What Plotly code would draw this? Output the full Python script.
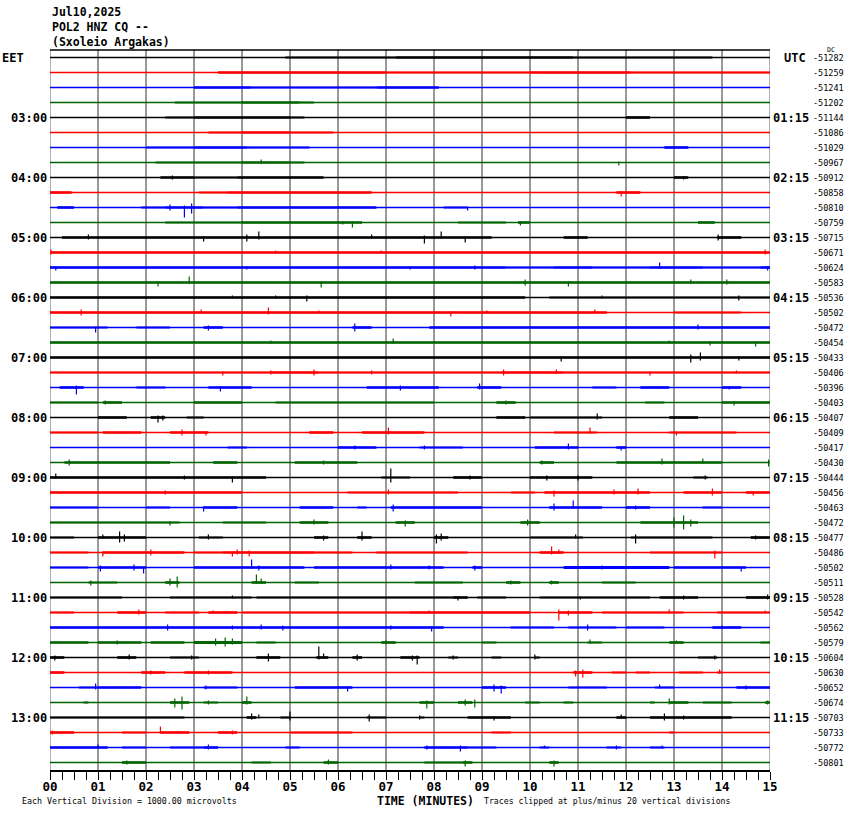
import plotly.graph_objects as go

# ---------------- data ----------------
HEADER = ["Jul10,2025", "POL2 HNZ CQ --", "(Sxoleio Argakas)"]
MINUTE_LABELS = ["00", "01", "02", "03", "04", "05", "06", "07", "08",
                 "09", "10", "11", "12", "13", "14", "15"]
ROW_COLORS = ["#000000", "#ff0000", "#0000ff", "#006400"]
EET_ROWS = [4, 8, 12, 16, 20, 24, 28, 32, 36, 40, 44]
EET_LABELS = ["03:00", "04:00", "05:00", "06:00", "07:00", "08:00",
              "09:00", "10:00", "11:00", "12:00", "13:00"]
UTC_LABELS = ["01:15", "02:15", "03:15", "04:15", "05:15", "06:15",
              "07:15", "08:15", "09:15", "10:15", "11:15"]
DC_OFFSETS = [-51282, -51259, -51241, -51202, -51144, -51086, -51029, -50967,
              -50912, -50858, -50810, -50759, -50715, -50671, -50624, -50583,
              -50536, -50502, -50472, -50454, -50433, -50406, -50396, -50403,
              -50407, -50409, -50417, -50430, -50444, -50456, -50463, -50472,
              -50477, -50486, -50502, -50511, -50528, -50542, -50562, -50579,
              -50604, -50630, -50652, -50674, -50703, -50733, -50772, -50801]

# noise bands per row: [start_min, end_min, half-amplitude px]
NOISE = [
    [[4.9, 7.2, 1], [7.2, 10.9, 1.5], [10.9, 13.8, 1]],
    [[3.5, 7.0, 1.5], [7.0, 10.0, 1], [10.0, 12.1, 1.5], [12.1, 15, 1]],
    [[3.0, 4.2, 1.5], [4.2, 6.8, 1], [6.8, 8.1, 1.5]],
    [[2.6, 4.0, 1], [4.0, 5.2, 1.5], [5.2, 5.5, 1]],
    [[2.4, 3.0, 1], [3.0, 5.0, 1.5], [5.0, 5.3, 1], [12.0, 12.5, 1.5]],
    [[3.3, 4.0, 1], [4.0, 5.0, 1.5], [5.0, 5.9, 1]],
    [[2.0, 3.0, 1], [3.0, 4.1, 1.5], [4.1, 5.4, 1], [12.8, 13.3, 1.5]],
    [[2.2, 4.0, 1], [4.0, 5.0, 1.5], [5.0, 5.3, 1]],
    [[2.3, 3.0, 1.5], [3.0, 3.9, 1], [3.9, 5.7, 1.5], [13.0, 13.3, 1.5]],
    [[0, 0.45, 1.5], [3.1, 3.7, 1], [3.7, 6.7, 1.5], [11.8, 12.3, 1.5]],
    [[0.15, 0.5, 1.5], [1.9, 2.4, 1], [2.4, 3.2, 1.5], [3.2, 3.9, 1], [3.9, 6.8, 1.5], [8.2, 8.7, 1]],
    [[2.4, 4.0, 1], [4.0, 6.5, 1.5], [8.5, 9.5, 1], [9.75, 10.0, 1.5], [13.5, 13.85, 1.5]],
    [[0.25, 9.2, 1.5], [10.7, 11.2, 1.5], [13.9, 14.4, 1.5]],
    [[0, 15, 1.5]],
    [[0, 9.5, 1.5], [9.5, 10.5, 1], [10.5, 11.3, 1.5], [11.3, 12.5, 1], [12.5, 13.6, 1.5], [13.6, 14.8, 1], [14.8, 15, 1.5]],
    [[0, 15, 1.5]],
    [[0, 9.9, 1.5], [10.4, 15, 1]],
    [[0, 11.6, 1.5], [13.0, 14.4, 1]],
    [[0, 1.2, 1], [1.8, 2.5, 1], [3.2, 3.6, 1.5], [6.3, 6.7, 1.5], [7.9, 15, 1.5]],
    [[0, 15, 1.5]],
    [[0, 15, 1.5]],
    [[0, 4.6, 1], [4.6, 5.6, 1.5], [5.6, 9.4, 1], [9.4, 10.7, 1.5], [10.7, 15, 1]],
    [[0.2, 0.7, 1.5], [1.8, 2.4, 1], [3.3, 4.2, 1.5], [6.6, 8.1, 1.5], [8.9, 9.4, 1.5], [11.3, 11.8, 1], [12.3, 12.9, 1.5], [14.0, 14.4, 1.5]],
    [[0, 1.0, 1], [1.1, 1.5, 1.5], [3.0, 4.0, 1.5], [4.7, 8.0, 1], [9.3, 9.7, 1.5], [12.4, 12.8, 1], [14.0, 15, 1.5]],
    [[1.0, 1.6, 1.5], [2.1, 2.4, 1.5], [2.85, 3.2, 1], [9.3, 9.9, 1.5], [10.0, 11.5, 1], [12.9, 13.5, 1.5]],
    [[0, 1.0, 1], [1.1, 1.9, 1.5], [2.5, 3.3, 1.5], [5.4, 5.9, 1.5], [6.5, 7.8, 1.5], [10.5, 11.4, 1], [12.9, 14.3, 1]],
    [[3.7, 4.1, 1], [6.0, 6.8, 1.5], [7.7, 8.6, 1], [10.1, 11.0, 1.5], [11.8, 12.0, 1.5]],
    [[0.3, 2.5, 1.5], [3.4, 3.9, 1.5], [5.1, 6.4, 1.5], [10.2, 10.5, 1.5], [11.8, 14.0, 1.5]],
    [[0, 4.5, 1.5], [6.9, 7.5, 1], [8.4, 9.0, 1.5], [10.0, 11.3, 1.5], [13.4, 13.7, 1]],
    [[0, 4.0, 1.5], [6.2, 8.5, 1], [9.6, 10.1, 1], [10.3, 12.5, 1.5], [13.2, 14.0, 1.5], [14.5, 15, 1.5]],
    [[0, 1.0, 1], [2.0, 2.5, 1], [3.2, 3.9, 1.5], [5.2, 5.9, 1.5], [6.4, 6.6, 1], [7.1, 9.0, 1.5], [10.4, 11.5, 1.5], [12.0, 12.5, 1.5], [13.6, 14.0, 1]],
    [[0, 2.7, 1], [3.6, 4.5, 1], [5.2, 5.8, 1.5], [7.2, 7.6, 1.5], [9.8, 10.2, 1.5], [12.3, 13.5, 1.5]],
    [[0, 0.5, 1], [1.0, 2.0, 1.5], [3.1, 3.6, 1], [5.5, 5.8, 1.5], [6.4, 6.7, 1.5], [8.0, 8.3, 1.5], [10.0, 11.1, 1], [12.1, 13.8, 1], [14.6, 15, 1.5]],
    [[0, 0.8, 1], [1.1, 2.8, 1.5], [3.0, 3.6, 1], [3.6, 5.5, 1.5], [5.5, 6.3, 1], [6.8, 8.7, 1], [10.2, 10.7, 1.5], [12.5, 14.0, 1]],
    [[0, 0.8, 1], [1.0, 2.0, 1.5], [3.0, 5.3, 1.5], [5.5, 8.2, 1.5], [8.8, 9.0, 1.5], [10.7, 12.9, 2], [13.0, 14.5, 1.5]],
    [[0.8, 1.4, 1], [2.4, 2.7, 1.5], [4.2, 4.5, 1.5], [5.1, 5.6, 1], [7.6, 8.6, 1], [9.5, 9.8, 1.5], [10.4, 10.6, 1.5], [11.5, 12.2, 1]],
    [[0, 1.5, 1], [2.5, 4.2, 1], [4.3, 8.4, 1], [8.4, 8.7, 1.5], [8.9, 9.5, 1], [10.2, 11.3, 1], [11.3, 12.5, 1], [12.7, 13.5, 1.5], [14.5, 15, 1.5]],
    [[0, 0.5, 1], [1.4, 2.0, 1.5], [2.4, 3.1, 1], [3.3, 3.9, 1.5], [4.0, 7.5, 1], [7.5, 10.0, 1.5], [10.6, 11.3, 1.5], [11.5, 13.2, 1], [13.9, 15, 1]],
    [[0, 5.0, 1.5], [5.0, 8.2, 1.5], [9.6, 10.5, 1], [10.8, 11.8, 1], [12.0, 12.8, 1], [13.8, 14.4, 1.5]],
    [[0, 0.8, 1.5], [1.0, 1.9, 1.5], [2.1, 2.8, 1.5], [3.0, 4.0, 2], [4.3, 4.7, 1], [6.9, 7.2, 1.5], [9.0, 9.3, 1], [11.2, 11.5, 1], [12.9, 13.2, 1.5], [14.8, 15, 1]],
    [[0, 0.3, 1.5], [1.4, 1.8, 1.5], [2.5, 3.1, 1], [4.3, 4.8, 1.5], [5.55, 5.8, 1.5], [6.3, 6.5, 1.5], [7.3, 7.7, 1.5], [8.3, 8.5, 1], [9.2, 9.4, 1], [10.1, 10.2, 1], [13.5, 13.9, 1]],
    [[0, 0.3, 1.5], [1.9, 2.4, 1.5], [2.8, 3.8, 1.5], [10.9, 11.3, 1.5], [11.7, 12.0, 1], [12.2, 12.5, 1], [13.1, 13.6, 1], [13.9, 14.0, 1]],
    [[0.6, 1.0, 1], [1.0, 1.9, 1.5], [3.2, 3.9, 1], [5.1, 6.3, 1.5], [9.0, 9.5, 1.5], [10.8, 11.6, 1], [12.6, 13.0, 1], [14.3, 15, 1.5]],
    [[0.7, 0.8, 1], [2.5, 2.9, 1.5], [3.2, 3.5, 1], [4.0, 4.2, 1.5], [7.7, 8.0, 1.5], [8.5, 8.8, 1.5], [9.9, 10.2, 1], [10.7, 10.9, 1], [12.5, 12.6, 1], [12.9, 13.3, 1.5], [13.6, 14.2, 1], [14.9, 15, 1.5]],
    [[0, 2.8, 1], [4.1, 4.3, 1.5], [4.8, 5.0, 1], [6.6, 7.0, 1], [7.7, 7.8, 1], [8.7, 9.6, 1.5], [11.8, 12.0, 1.5], [12.5, 14.2, 1.5]],
    [[0, 0.5, 1.5], [1.5, 2.0, 1], [2.3, 2.9, 1.5], [3.5, 3.9, 1.5], [5.0, 6.3, 1], [9.2, 9.6, 1], [12.9, 13.0, 1]],
    [[0, 1.2, 1.5], [1.5, 2.0, 1], [2.5, 3.2, 1], [3.2, 3.5, 1.5], [4.9, 5.2, 1], [7.8, 8.7, 1.5], [8.7, 9.3, 1], [10.2, 10.4, 1], [11.6, 11.9, 1], [12.5, 12.8, 1]],
    [[1.5, 2.0, 1.5], [4.2, 4.6, 1], [5.7, 6.0, 1.5], [7.8, 8.6, 1], [8.6, 8.8, 1.5], [10.4, 10.6, 1.5]],
]

# spikes per row: [minute, up px, down px]
SPIKES = [
    [],
    [],
    [],
    [],
    [],
    [],
    [],
    [[4.4, 3, 1], [11.85, 1, 3]],
    [[2.55, 2, 2], [13.2, 1, 2]],
    [[11.9, 1, 4]],
    [[2.5, 3, 3], [2.8, 2, 10], [2.95, 4, 6], [8.7, 1, 3]],
    [[6.3, 1, 5], [9.8, 1, 3], [6.1, 1, 2]],
    [[0.8, 3, 2], [3.2, 1, 4], [4.1, 3, 4], [4.35, 6, 2], [6.7, 3, 1], [7.8, 2, 6], [8.15, 6, 1], [8.65, 1, 5], [13.92, 3, 3]],
    [[0.02, 3, 2], [4.7, 2, 1], [6.9, 2, 1], [14.9, 3, 2]],
    [[0.12, 1, 3], [4.1, 1, 2], [7.5, 1, 2], [8.85, 2, 2], [12.7, 5, 1], [14.95, 1, 3]],
    [[2.25, 1, 4], [2.9, 6, 1], [5.65, 1, 5], [9.9, 3, 3], [10.8, 1, 4], [13.35, 3, 1], [14.1, 3, 2]],
    [[3.8, 2, 1], [4.7, 2, 1], [5.35, 2, 4], [11.5, 2, 1], [14.35, 2, 3]],
    [[0.65, 3, 3], [3.15, 3, 1], [4.55, 5, 2], [5.6, 2, 1], [8.35, 1, 4], [9.1, 2, 1], [11.35, 3, 1]],
    [[0.95, 1, 5], [3.3, 2, 3], [6.35, 4, 4], [13.5, 3, 2]],
    [[4.6, 2, 1], [7.15, 4, 1], [12.9, 2, 1], [13.75, 1, 3], [14.7, 1, 4]],
    [[10.65, 1, 4], [13.35, 3, 5], [13.55, 5, 3], [14.35, 1, 3]],
    [[3.6, 1, 3], [4.6, 2, 2], [5.5, 3, 3], [6.7, 2, 2], [9.45, 3, 3], [10.55, 3, 1], [12.5, 1, 3], [14.3, 2, 1]],
    [[0.55, 2, 7], [3.55, 1, 4], [7.3, 2, 3], [8.95, 4, 2], [14.15, 1, 2]],
    [[1.15, 2, 2], [9.5, 2, 2], [14.25, 1, 3]],
    [[2.25, 2, 5], [2.35, 2, 3], [11.4, 4, 2]],
    [[2.75, 3, 3], [3.25, 1, 3], [7.05, 5, 2], [11.25, 5, 1], [13.05, 1, 3]],
    [[6.35, 2, 2], [7.8, 2, 2], [10.8, 4, 2], [11.9, 1, 3]],
    [[0.4, 3, 3], [5.7, 2, 2], [10.25, 2, 2], [12.75, 4, 2], [13.6, 4, 1], [14.97, 3, 4]],
    [[0.12, 4, 1], [2.8, 2, 2], [3.8, 1, 5], [7.1, 9, 5], [8.75, 2, 2], [10.35, 2, 3], [11.0, 2, 3], [13.65, 2, 2]],
    [[2.4, 2, 2], [7.05, 3, 2], [10.5, 2, 4], [11.75, 3, 2], [12.25, 4, 2], [13.8, 4, 3], [14.65, 1, 3]],
    [[3.2, 1, 4], [7.15, 3, 4], [10.5, 4, 3], [10.9, 7, 1], [12.2, 2, 2]],
    [[2.5, 1, 3], [5.5, 3, 2], [7.4, 2, 4], [9.95, 3, 3], [13.0, 5, 5], [13.2, 7, 7], [13.35, 3, 4]],
    [[1.1, 3, 1], [1.45, 6, 5], [1.55, 3, 4], [3.3, 3, 2], [5.7, 2, 3], [6.5, 6, 3], [8.05, 3, 6], [8.15, 4, 3], [10.95, 3, 1], [12.2, 3, 6], [14.7, 2, 2]],
    [[1.1, 1, 4], [2.1, 3, 3], [3.8, 1, 4], [3.9, 3, 2], [4.15, 2, 4], [10.45, 6, 2], [10.6, 3, 1], [13.85, 2, 6]],
    [[1.05, 2, 4], [1.75, 3, 3], [1.95, 1, 6], [4.2, 8, 1], [4.35, 2, 3], [7.1, 3, 2], [7.9, 2, 2], [8.85, 2, 3], [11.5, 2, 2], [14.4, 1, 4]],
    [[0.85, 2, 3], [2.5, 4, 3], [2.65, 6, 5], [4.3, 8, 1], [4.4, 4, 1], [9.6, 2, 2], [10.45, 2, 2]],
    [[3.8, 2, 1], [8.5, 1, 3], [11.05, 1, 2], [13.2, 2, 2], [14.95, 3, 2]],
    [[1.85, 3, 2], [3.4, 2, 1], [7.9, 2, 1], [10.6, 3, 8], [10.8, 2, 3], [12.9, 3, 1], [14.9, 2, 1]],
    [[2.45, 3, 3], [3.8, 2, 2], [4.4, 3, 2], [4.85, 2, 3], [7.1, 2, 2], [7.95, 1, 4], [11.2, 3, 3], [14.0, 2, 1]],
    [[1.4, 2, 2], [3.45, 4, 3], [3.65, 5, 4], [3.8, 4, 2], [7.0, 2, 1], [11.25, 3, 1], [13.05, 2, 1]],
    [[0.1, 2, 3], [1.65, 3, 2], [2.95, 2, 2], [4.55, 4, 4], [5.6, 11, 2], [5.7, 4, 1], [6.4, 3, 3], [7.55, 2, 3], [7.65, 2, 7], [8.4, 2, 2], [10.1, 3, 2], [13.85, 2, 2]],
    [[2.1, 2, 2], [3.3, 2, 2], [10.95, 2, 4], [11.1, 3, 5], [13.95, 3, 1]],
    [[0.95, 4, 2], [3.25, 2, 2], [6.2, 1, 4], [9.25, 3, 4], [9.4, 2, 6], [12.7, 3, 1], [14.5, 2, 2]],
    [[2.6, 4, 5], [2.75, 6, 7], [3.3, 2, 2], [4.1, 6, 2], [7.85, 2, 6], [8.65, 3, 3], [8.85, 3, 5], [12.9, 4, 2], [14.95, 2, 2]],
    [[4.2, 4, 2], [4.35, 3, 1], [5.0, 6, 3], [6.65, 3, 4], [7.7, 2, 2], [9.25, 1, 3], [11.9, 3, 1], [12.8, 4, 3], [13.2, 2, 2]],
    [[0.05, 2, 2], [2.3, 6, 1], [3.8, 2, 2]],
    [[1.0, 3, 1], [3.3, 3, 2], [7.85, 2, 2], [8.55, 2, 4], [10.3, 2, 1], [11.8, 2, 2], [12.75, 2, 1]],
    [[1.6, 2, 2], [5.8, 3, 2], [8.65, 2, 4], [10.5, 2, 4]],
]

# ---------------- figure ----------------
N_ROWS = len(DC_OFFSETS)
ROW_PX = 15.0
MONO = "DejaVu Sans Mono"
W, H = 850, 814
ML, MR, MT, MB = 50, 80, 50, 44
PW, PH = W - ML - MR, H - MT - MB
GRID = "#999999"


def px_to_paper_x(px):
    return (px - ML) / PW


def px_to_paper_y(py):
    return (H - MB - py) / PH


fig = go.Figure()

for ci, color in enumerate(ROW_COLORS):
    rows = [r for r in range(N_ROWS) if r % 4 == ci]
    # baselines
    bx, by = [], []
    for r in rows:
        bx += [0, 15, None]
        by += [r, r, None]
    fig.add_trace(go.Scatter(x=bx, y=by, mode="lines",
                             line=dict(color=color, width=1.5),
                             hoverinfo="skip", showlegend=False))
    # noise bands grouped by amplitude
    for amp, width in [(1, 2.0), (1.5, 2.6), (2, 3.2)]:
        nx, ny = [], []
        for r in rows:
            for a, b, h in NOISE[r]:
                if h == amp:
                    nx += [a, b, None]
                    ny += [r, r, None]
        if nx:
            fig.add_trace(go.Scatter(x=nx, y=ny, mode="lines",
                                     line=dict(color=color, width=width),
                                     hoverinfo="skip", showlegend=False))
    # spikes
    sx, sy = [], []
    for r in rows:
        for m, up, dn in SPIKES[r]:
            sx += [m, m, None]
            sy += [r - up / ROW_PX, r + dn / ROW_PX, None]
    if sx:
        fig.add_trace(go.Scatter(x=sx, y=sy, mode="lines",
                                 line=dict(color=color, width=1.2),
                                 hoverinfo="skip", showlegend=False))

ann = []
# header
for k, txt in enumerate(HEADER):
    ann.append(dict(text="<b>%s</b>" % txt, xref="paper", yref="paper",
                    x=px_to_paper_x(50), y=px_to_paper_y(12 + 15 * k),
                    xanchor="left", yanchor="middle", showarrow=False,
                    font=dict(family=MONO, size=11.5, color="black")))
# left timezone labels
ann.append(dict(text="<b>EET</b>", xref="paper", yref="y", x=px_to_paper_x(0), y=0,
                xanchor="left", yanchor="middle", showarrow=False,
                font=dict(family=MONO, size=12, color="black")))
ann.append(dict(text="<b>UTC</b>", xref="paper", yref="y", x=px_to_paper_x(795), y=0,
                xanchor="center", yanchor="middle", showarrow=False,
                font=dict(family=MONO, size=12, color="black")))
for r, lt, ut in zip(EET_ROWS, EET_LABELS, UTC_LABELS):
    ann.append(dict(text="<b>%s</b>" % lt, xref="paper", yref="y", x=px_to_paper_x(49), y=r,
                    xanchor="right", yanchor="middle", showarrow=False,
                    font=dict(family=MONO, size=12, color="black")))
    ann.append(dict(text="<b>%s</b>" % ut, xref="paper", yref="y", x=px_to_paper_x(791), y=r,
                    xanchor="center", yanchor="middle", showarrow=False,
                    font=dict(family=MONO, size=12, color="black")))
# DC offsets
for r, v in enumerate(DC_OFFSETS):
    ann.append(dict(text=str(v), xref="paper", yref="y", x=px_to_paper_x(846), y=r,
                    xanchor="right", yanchor="middle", showarrow=False,
                    font=dict(family=MONO, size=8.5, color="black")))
ann.append(dict(text="DC", xref="paper", yref="paper", x=px_to_paper_x(831), y=px_to_paper_y(50),
                xanchor="center", yanchor="middle", showarrow=False,
                font=dict(family=MONO, size=6.5, color="black")))
# bottom texts
ann.append(dict(text="<b>TIME (MINUTES)</b>", xref="paper", yref="paper",
                x=px_to_paper_x(425), y=px_to_paper_y(801), xanchor="center", yanchor="middle",
                showarrow=False, font=dict(family=MONO, size=11.5, color="black")))
ann.append(dict(text="Each Vertical Division = 1000.00 microvolts", xref="paper", yref="paper",
                x=px_to_paper_x(20), y=px_to_paper_y(801), xanchor="left", yanchor="middle",
                showarrow=False, font=dict(family=MONO, size=8.3, color="black")))
ann.append(dict(text="Traces clipped at plus/minus 20 vertical divisions", xref="paper", yref="paper",
                x=px_to_paper_x(482), y=px_to_paper_y(801), xanchor="left", yanchor="middle",
                showarrow=False, font=dict(family=MONO, size=8.2, color="black")))

shapes = [
    dict(type="line", xref="x", yref="paper", x0=0, x1=0, y0=0, y1=1,
         line=dict(color=GRID, width=1.5), layer="below"),
    dict(type="line", xref="x", yref="paper", x0=15, x1=15, y0=0, y1=1,
         line=dict(color=GRID, width=1.5), layer="below"),
    dict(type="line", xref="paper", yref="paper", x0=0, x1=1, y0=1, y1=1,
         line=dict(color="black", width=1.5), layer="above"),
]

top_pad = 7.5 / ROW_PX
bot_pad = 7.5 / ROW_PX
fig.update_layout(
    width=W, height=H,
    margin=dict(l=ML, r=MR, t=MT, b=MB, pad=0),
    paper_bgcolor="white", plot_bgcolor="white",
    showlegend=False,
    annotations=ann,
    shapes=shapes,
    xaxis=dict(range=[0, 15], tickvals=list(range(16)),
               ticktext=["<b>%s</b>" % t for t in MINUTE_LABELS],
               tickfont=dict(family=MONO, size=12.5, color="black"),
               ticklabelstandoff=-4,
               showgrid=True, gridcolor=GRID, gridwidth=1.5,
               zeroline=False, showline=True, linecolor="black", linewidth=1.5,
               ticks="outside", ticklen=8, tickwidth=1.2, tickcolor="black",
               minor=dict(dtick=0.25, ticks="outside", ticklen=8, tickwidth=1,
                          tickcolor="black", showgrid=False),
               fixedrange=True),
    yaxis=dict(range=[N_ROWS - 1 + bot_pad, -top_pad], showgrid=False, zeroline=False,
               showticklabels=False, ticks="", showline=False, fixedrange=True),
)

fig.write_html("out.html", config={"displayModeBar": False},
               post_script="document.body.style.margin='0';")
